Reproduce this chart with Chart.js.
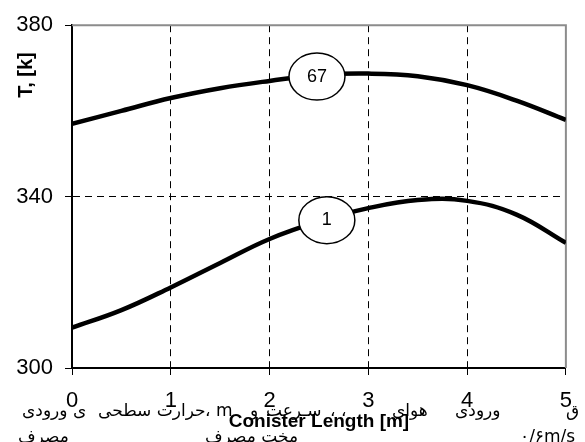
<!DOCTYPE html>
<html>
<head>
<meta charset="utf-8">
<script src="https://cdn.jsdelivr.net/npm/chart.js@4.4.1/dist/chart.umd.min.js"></script>
<style>
  html, body { margin: 0; padding: 0; background: #fff; }
  #wrap { width: 585px; height: 442px; }
</style>
</head>
<body>
<div id="wrap"><canvas id="c" width="585" height="442"></canvas></div>
<script>
// ── Data ─────────────────────────────────────────────────────────────────────
const lengthM = [0, 0.5, 1, 1.5, 2, 2.5, 3, 3.5, 4, 4.5, 5];
const temp67  = [357.0, 360.0, 363.0, 365.3, 367.0, 368.4, 368.7, 368.1, 366.0, 362.4, 357.9];
const temp1   = [309.4, 313.5, 318.8, 324.5, 330.1, 334.2, 337.3, 339.2, 339.0, 335.8, 329.2];
const xTicks  = [0, 1, 2, 3, 4, 5];
const yTicks  = [300, 340, 380];
const curveNames = ['67', '1'];
const nameAtX    = [2.48, 2.58];
const nameAtY    = [368.0, 334.5];

// Persian text bleeding through under the axis (approximate)
const faLine1 = ['ی ورودی', 'حرارت سطحی', '، m', 'و', 'سـرعت', '، ،', 'هوای', 'ورودی', 'ق'];
const faLine2 = ['مصرف', 'مخت مصرف', '۰/۶m/s'];

// ── Style ────────────────────────────────────────────────────────────────────
const FONT = "'Liberation Sans', Arial, sans-serif";
const faX1 = [22, 98, 205, 250, 266, 330, 392, 455, 566];
const faX2 = [18, 205, 520];

const dash = [7, 5];

const framePlugin = {
    id: 'frame',
    beforeDatasetsDraw(chart) {
        const { ctx, chartArea: a } = chart;
        ctx.save();
        ctx.strokeStyle = '#8c8c8c';
        ctx.lineWidth = 2;
        ctx.beginPath();
        ctx.moveTo(a.left, a.top);
        ctx.lineTo(a.right, a.top);
        ctx.lineTo(a.right, a.bottom);
        ctx.stroke();
        ctx.restore();
    },
    afterDatasetsDraw(chart) {
        const { ctx, scales } = chart;
        ctx.save();
        curveNames.forEach((name, i) => {
            const px = scales.x.getPixelForValue(nameAtX[i]);
            const py = scales.y.getPixelForValue(nameAtY[i]);
            ctx.beginPath();
            ctx.ellipse(px, py, 28, 23.5, 0, 0, Math.PI * 2);
            ctx.fillStyle = '#fff';
            ctx.fill();
            ctx.lineWidth = 1.5;
            ctx.strokeStyle = '#000';
            ctx.stroke();
            ctx.fillStyle = '#000';
            ctx.font = `18px ${FONT}`;
            ctx.textAlign = 'center';
            ctx.textBaseline = 'middle';
            ctx.fillText(name, px, py);
        });
        ctx.restore();
    },
    afterDraw(chart) {
        const { ctx } = chart;
        ctx.save();
        // y title, sits near the top
        ctx.translate(26, 75);
        ctx.rotate(-Math.PI / 2);
        ctx.font = `bold 20px ${FONT}`;
        ctx.fillStyle = '#000';
        ctx.textAlign = 'center';
        ctx.textBaseline = 'middle';
        ctx.fillText('T, [k]', 0, 0);
        ctx.restore();

        ctx.save();
        ctx.font = "17px 'DejaVu Sans', sans-serif";
        ctx.fillStyle = '#000';
        ctx.textAlign = 'left';
        ctx.textBaseline = 'middle';
        faLine1.forEach((t, i) => ctx.fillText(t, faX1[i], 412));
        faLine2.forEach((t, i) => ctx.fillText(t, faX2[i], 438));
        ctx.restore();
    },
};

new Chart(document.getElementById('c'), {
    type: 'line',
    data: {
        datasets: [
            { label: '67', data: lengthM.map((x, i) => ({ x, y: temp67[i] })) },
            { label: '1',  data: lengthM.map((x, i) => ({ x, y: temp1[i] })) },
        ].map(ds => ({
            ...ds,
            borderColor: '#000',
            borderWidth: 4.5,
            pointRadius: 0,
            tension: 0.4,
            fill: false,
        })),
    },
    options: {
        responsive: false,
        animation: false,
        layout: { padding: { top: 15, right: 9, left: 0, bottom: 0 } },
        plugins: { legend: { display: false }, tooltip: { enabled: false } },
        scales: {
            x: {
                type: 'linear',
                min: 0, max: 5,
                afterBuildTicks: s => { s.ticks = xTicks.map(v => ({ value: v })); },
                afterFit: s => { s.height = 74; },
                grid: {
                    color: c => (c.tick && c.tick.value > 0 && c.tick.value < 5) ? '#000' : 'rgba(0,0,0,0)',
                    tickColor: '#000',
                    tickLength: 7,
                    tickBorderDash: [],
                    lineWidth: 1,
                },
                border: { display: true, color: '#000', width: 2, dash },
                ticks: {
                    color: '#000',
                    font: { family: FONT, size: 22 },
                    padding: 13,
                    maxRotation: 0,
                    callback: v => String(v),
                },
                title: {
                    display: true,
                    text: 'Conister Length [m]',
                    color: '#000',
                    font: { family: FONT, size: 19, weight: 'bold' },
                    padding: { top: 0, bottom: 9 },
                },
            },
            y: {
                type: 'linear',
                min: 300, max: 380,
                afterBuildTicks: s => { s.ticks = yTicks.map(v => ({ value: v })); },
                afterFit: s => { s.width = 72; },
                grid: {
                    color: c => (c.tick && c.tick.value === 340) ? '#000' : 'rgba(0,0,0,0)',
                    tickColor: '#000',
                    tickLength: 7,
                    tickBorderDash: [],
                    lineWidth: 1,
                },
                border: { display: true, color: '#000', width: 2, dash },
                ticks: {
                    color: '#000',
                    font: { family: FONT, size: 22 },
                    padding: 12,
                    callback: v => String(v),
                },
                title: { display: false },
            },
        },
    },
    plugins: [framePlugin],
});
</script>
</body>
</html>
